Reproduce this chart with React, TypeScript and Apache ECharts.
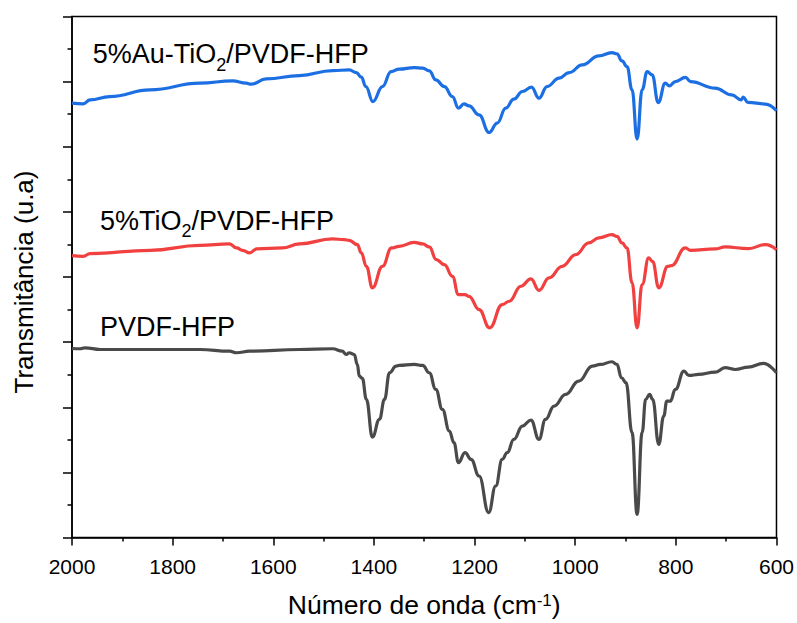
import React, { useEffect, useRef } from "react";
import * as echarts from "echarts";

// Wavenumber (cm-1) vs. transmittance (arbitrary units, curves offset)
const auTiO2Spectrum: [number, number][] = [
  [2000, 6.670], [1978, 6.659], [1964, 6.720], [1925, 6.771], [1845, 6.874],
  [1746, 6.976], [1681, 7.012], [1654, 6.976], [1644, 6.961], [1614, 7.042],
  [1548, 7.093], [1482, 7.170], [1449, 7.180], [1435, 7.139], [1425, 7.068],
  [1416, 6.924], [1402, 6.694], [1383, 6.924], [1366, 7.154], [1350, 7.191],
  [1320, 7.216], [1303, 7.206], [1290, 7.165], [1277, 7.027], [1260, 6.924],
  [1244, 6.771], [1232, 6.593], [1221, 6.659], [1211, 6.628], [1191, 6.490],
  [1171, 6.219], [1155, 6.363], [1138, 6.593], [1122, 6.731], [1105, 6.848],
  [1087, 6.915], [1072, 6.746], [1056, 6.924], [1032, 7.053], [1012, 7.139],
  [986, 7.257], [953, 7.395], [927, 7.446], [917, 7.426], [907, 7.318],
  [897, 7.231], [887, 6.874], [877, 6.118], [867, 6.874], [857, 7.154],
  [847, 7.104], [835, 6.679], [821, 6.976], [813, 6.935], [801, 7.001],
  [781, 7.065], [771, 7.001], [722, 6.900], [689, 6.797], [670, 6.720],
  [666, 6.762], [657, 6.682], [622, 6.656], [600, 6.552],
];

const tiO2Spectrum: [number, number][] = [
  [2000, 4.328], [1978, 4.318], [1964, 4.359], [1845, 4.410], [1746, 4.486],
  [1687, 4.508], [1673, 4.446], [1661, 4.410], [1647, 4.370], [1633, 4.431],
  [1582, 4.446], [1548, 4.508], [1482, 4.585], [1459, 4.574], [1449, 4.563],
  [1433, 4.497], [1425, 4.370], [1415, 4.164], [1403, 3.833], [1383, 4.164],
  [1365, 4.446], [1350, 4.471], [1320, 4.532], [1303, 4.508], [1290, 4.462],
  [1276, 4.267], [1260, 4.190], [1244, 4.011], [1232, 3.730], [1219, 3.730],
  [1211, 3.704], [1191, 3.500], [1170, 3.220], [1145, 3.577], [1131, 3.628],
  [1108, 3.858], [1088, 3.971], [1072, 3.796], [1052, 3.987], [1026, 4.164],
  [999, 4.344], [973, 4.523], [953, 4.600], [927, 4.650], [917, 4.624],
  [907, 4.523], [897, 4.446], [887, 3.910], [877, 3.220], [867, 3.884],
  [854, 4.293], [846, 4.236], [834, 3.833], [816, 4.164], [809, 4.175],
  [781, 4.446], [771, 4.410], [722, 4.431], [702, 4.462], [656, 4.436],
  [622, 4.497], [600, 4.420],
];

const pvdfHfpSpectrum: [number, number][] = [
  [2000, 2.902], [1984, 2.898], [1974, 2.913], [1944, 2.887], [1746, 2.887],
  [1687, 2.861], [1673, 2.837], [1647, 2.861], [1548, 2.887], [1482, 2.898],
  [1463, 2.861], [1455, 2.810], [1449, 2.837], [1439, 2.810], [1433, 2.657],
  [1429, 2.478], [1423, 2.443], [1415, 2.121], [1403, 1.542], [1389, 1.814],
  [1379, 2.121], [1369, 2.530], [1356, 2.631], [1350, 2.642], [1320, 2.657],
  [1303, 2.642], [1290, 2.530], [1277, 2.274], [1264, 1.967], [1250, 1.634],
  [1241, 1.457], [1232, 1.150], [1219, 1.303], [1207, 1.201], [1191, 0.944],
  [1172, 0.383], [1158, 0.791], [1145, 1.201], [1135, 1.303], [1122, 1.507],
  [1105, 1.711], [1088, 1.803], [1072, 1.507], [1059, 1.814], [1042, 2.018],
  [1019, 2.197], [993, 2.401], [966, 2.631], [950, 2.657], [927, 2.699],
  [917, 2.657], [908, 2.453], [899, 2.377], [887, 1.610], [877, 0.357],
  [867, 1.610], [860, 2.121], [852, 2.197], [846, 2.121], [834, 1.431],
  [824, 1.864], [818, 2.094], [811, 2.094], [801, 2.274], [784, 2.554],
  [774, 2.488], [755, 2.504], [722, 2.539], [702, 2.607], [682, 2.580],
  [656, 2.616], [626, 2.673], [600, 2.530],
];

const seriesNames = ["5%Au-TiO2/PVDF-HFP", "5%TiO2/PVDF-HFP", "PVDF-HFP"];
// label pieces: [text, isSubscript]
const seriesLabelParts: [string, boolean][][] = [
  [["5%Au-TiO", false], ["2", true], ["/PVDF-HFP", false]],
  [["5%TiO", false], ["2", true], ["/PVDF-HFP", false]],
  [["PVDF-HFP", false]],
];
const seriesColors = ["#1C6FE2", "#F0403F", "#4A4A4A"];
const xTicks = [600, 800, 1000, 1200, 1400, 1600, 1800, 2000];

const FONT = "Arial, 'Liberation Sans', sans-serif";
const MAIN_SIZE = 27;
const SUB_SIZE = 18;

function measure(text: string, size: number): number {
  const ctx = document.createElement("canvas").getContext("2d");
  if (!ctx) return text.length * size * 0.55;
  ctx.font = `${size}px ${FONT}`;
  return ctx.measureText(text).width;
}

function mkLabel(parts: [string, boolean][], x: number, baseline: number) {
  const els: any[] = [];
  let cx = x;
  for (const [txt, sub] of parts) {
    const size = sub ? SUB_SIZE : MAIN_SIZE;
    const base = sub ? baseline + 7.5 : baseline;
    els.push({
      type: "text",
      x: cx,
      y: base - 0.35 * size,
      silent: true,
      style: {
        text: txt,
        fontSize: size,
        fontFamily: FONT,
        fill: "#000",
        align: "left",
        verticalAlign: "middle",
      },
    });
    cx += measure(txt, size);
  }
  return els;
}

export default function App() {
  const ref = useRef<HTMLDivElement>(null);

  useEffect(() => {
    if (!ref.current) return;
    const chart = echarts.init(ref.current, undefined, { renderer: "svg" });

    const data = [auTiO2Spectrum, tiO2Spectrum, pvdfHfpSpectrum];
    const labelPos: [number, number][] = [
      [92.7, 63.3],
      [100, 230],
      [100, 336],
    ];

    chart.setOption({
      animation: false,
      backgroundColor: "#fff",
      grid: {
        left: 72,
        right: 19,
        top: 16.5,
        bottom: 84.7,
        show: true,
        borderColor: "#000",
        borderWidth: 1.5,
        backgroundColor: "transparent",
      },
      xAxis: {
        type: "value",
        min: xTicks[0],
        max: xTicks[xTicks.length - 1],
        interval: 200,
        inverse: true,
        name: "Número de onda (cm{sup|-1})",
        nameLocation: "middle",
        nameGap: 54,
        nameTextStyle: {
          fontSize: 26.5,
          lineHeight: 26,
          fontFamily: FONT,
          color: "#000",
          rich: {
            sup: { fontSize: 17, lineHeight: 12, verticalAlign: "top", fontFamily: FONT, color: "#000" },
          },
        },
        axisLine: { show: true, lineStyle: { color: "#000", width: 1.5 } },
        axisTick: { show: true, inside: false, length: 8, lineStyle: { color: "#000", width: 1.5 } },
        minorTick: { show: true, splitNumber: 2, length: 4, lineStyle: { color: "#000", width: 1.5 } },
        axisLabel: {
          fontSize: 21,
          fontFamily: FONT,
          color: "#000",
          margin: 18,
          formatter: (v: number) => String(v),
        },
        splitLine: { show: false },
        minorSplitLine: { show: false },
      },
      yAxis: {
        type: "value",
        min: 0,
        max: 8,
        interval: 1,
        name: "Transmitância (u.a)",
        nameLocation: "middle",
        nameGap: 35,
        nameRotate: 90,
        nameTextStyle: {
          fontSize: 26,
          lineHeight: 26,
          fontFamily: FONT,
          color: "#000",
          padding: [0, 10, 0, 0],
        },
        axisLine: { show: true, lineStyle: { color: "#000", width: 1.5 } },
        axisTick: { show: true, inside: false, length: 9, lineStyle: { color: "#000", width: 1.5 } },
        minorTick: { show: true, splitNumber: 2, length: 4.5, lineStyle: { color: "#000", width: 1.5 } },
        axisLabel: { show: false },
        splitLine: { show: false },
        minorSplitLine: { show: false },
      },
      series: data.map((d, i) => ({
        type: "line",
        name: seriesNames[i],
        data: d,
        showSymbol: false,
        symbol: "none",
        smooth: 0.45,
        smoothMonotone: "x",
        lineStyle: { color: seriesColors[i], width: 3.2 },
        itemStyle: { color: seriesColors[i] },
        z: 3 - i,
      })),
      graphic: seriesLabelParts.flatMap((parts, i) =>
        mkLabel(parts, labelPos[i][0], labelPos[i][1])
      ),
    });

    return () => chart.dispose();
  }, []);

  return (
    <div
      ref={ref}
      style={{ position: "absolute", left: 0, top: 0, width: 797, height: 623 }}
    />
  );
}
